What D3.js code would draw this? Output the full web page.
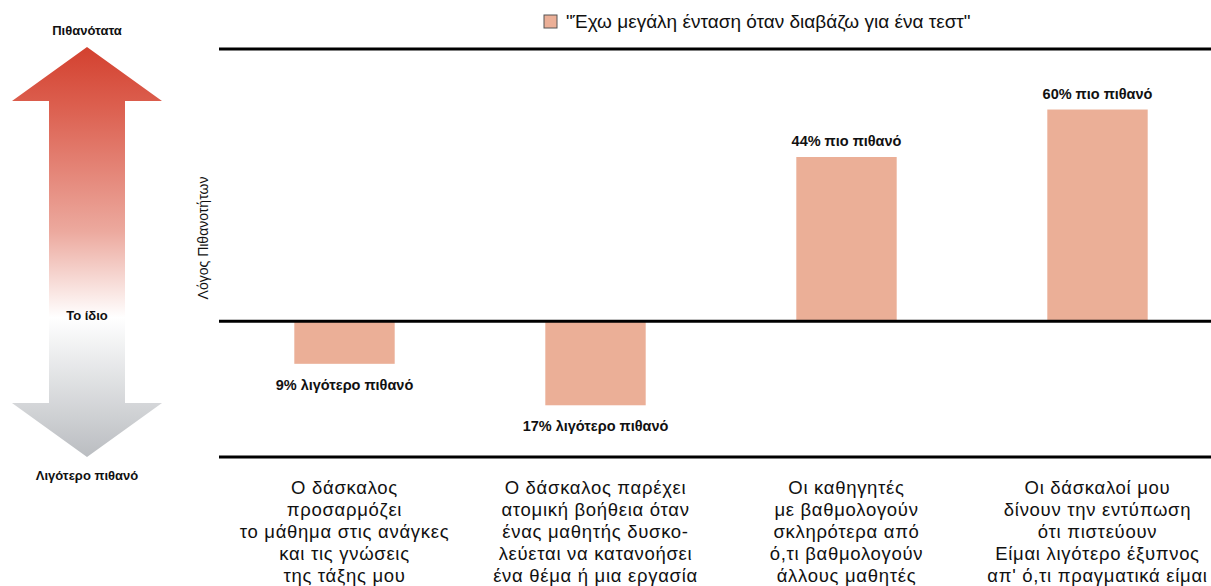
<!DOCTYPE html>
<html>
<head>
<meta charset="utf-8">
<script src="https://cdn.jsdelivr.net/npm/d3@7"></script>
<style>
  body { margin: 0; background: #fff; }
  text { font-family: "Liberation Sans", Arial, Helvetica, sans-serif; fill: #111; }
</style>
</head>
<body>
<div id="chart"></div>
<script>
var svgWidth = 1211
var svgHeight = 586

// data
var categories = [
    ["Ο δάσκαλος", "προσαρμόζει", "το μάθημα στις ανάγκες", "και τις γνώσεις", "της τάξης μου"],
    ["Ο δάσκαλος παρέχει", "ατομική βοήθεια όταν", "ένας μαθητής δυσκο-", "λεύεται να κατανοήσει", "ένα θέμα ή μια εργασία"],
    ["Οι καθηγητές", "με βαθμολογούν", "σκληρότερα από", "ό,τι βαθμολογούν", "άλλους μαθητές"],
    ["Οι δάσκαλοί μου", "δίνουν την εντύπωση", "ότι πιστεύουν", "Είμαι λιγότερο έξυπνος", "απ' ό,τι πραγματικά είμαι"]
]
var oddsRatios = [0.91, 0.83, 1.44, 1.60]
var valueLabels = ["9% λιγότερο πιθανό", "17% λιγότερο πιθανό", "44% πιο πιθανό", "60% πιο πιθανό"]
var seriesName = "\"Έχω μεγάλη ένταση όταν διαβάζω για ένα τεστ\""
var yDomain = [0.74, 1.83]
var arrowLabels = ["Πιθανότατα", "Το ίδιο", "Λιγότερο πιθανό"]

var barColor = "#ebaf97"

var svg = d3.select("#chart").append("svg").attr("width", svgWidth).attr("height", svgHeight)

var margin = { top: 49, left: 219, bottom: 129, right: -12 }

var xScale = d3.scaleBand().domain(d3.range(categories.length))
    .range([margin.left, svgWidth - margin.right])
    .paddingInner(0.6).paddingOuter(0.3)

var yScale = d3.scaleLog().domain(yDomain)
    .range([svgHeight - margin.bottom, margin.top])

// gradient for arrow
var defs = svg.append("defs")
var grad = defs.append("linearGradient").attr("id", "arrowGrad")
    .attr("x1", 0).attr("y1", 0).attr("x2", 0).attr("y2", 1)
grad.append("stop").attr("offset", "0%").attr("stop-color", "#d3412f")
grad.append("stop").attr("offset", "15%").attr("stop-color", "#dc6050")
grad.append("stop").attr("offset", "45%").attr("stop-color", "#eca99e")
grad.append("stop").attr("offset", "66%").attr("stop-color", "#ffffff")
grad.append("stop").attr("offset", "100%").attr("stop-color", "#babdc1")

var ax = 87, tipTop = 47, headTop = 101, headBot = 403, tipBot = 457
var arrowPts = [
    [ax, tipTop], [162, headTop], [125, headTop], [125, headBot], [162, headBot],
    [ax, tipBot], [12, headBot], [49, headBot], [49, headTop], [12, headTop]
]
svg.append("path")
    .attr("d", d3.line()(arrowPts) + "Z")
    .attr("fill", "url(#arrowGrad)")

svg.append("text").attr("x", ax).attr("y", 35).attr("text-anchor", "middle")
    .attr("font-size", "13px").attr("font-weight", "bold").text(arrowLabels[0])
svg.append("text").attr("x", ax).attr("y", yScale(1) - 1).attr("text-anchor", "middle")
    .attr("font-size", "13px").attr("font-weight", "bold").text(arrowLabels[1])
svg.append("text").attr("x", ax).attr("y", 480).attr("text-anchor", "middle")
    .attr("font-size", "13px").attr("font-weight", "bold").text(arrowLabels[2])

// y axis title
svg.append("text")
    .attr("transform", `translate(208, ${238}) rotate(-90)`)
    .attr("text-anchor", "middle")
    .attr("font-size", "14px")
    .text("Λόγος Πιθανοτήτων")

// bars
svg.selectAll("rect.bar")
    .data(oddsRatios)
    .enter()
    .append("rect")
    .attr("class", "bar")
    .attr("x", (d, i) => xScale(i))
    .attr("width", xScale.bandwidth())
    .attr("y", d => Math.min(yScale(d), yScale(1)))
    .attr("height", d => Math.abs(yScale(d) - yScale(1)))
    .attr("fill", barColor)

// value labels
svg.selectAll("text.val")
    .data(oddsRatios)
    .enter()
    .append("text")
    .attr("class", "val")
    .attr("x", (d, i) => xScale(i) + xScale.bandwidth() / 2)
    .attr("y", d => d >= 1 ? yScale(d) - 11 : yScale(d) + 26)
    .attr("text-anchor", "middle")
    .attr("font-size", "14.5px")
    .attr("font-weight", "bold")
    .text((d, i) => valueLabels[i])

// horizontal rules: top, baseline and bottom
var rules = [yDomain[1], 1, yDomain[0]]
svg.selectAll("line.rule")
    .data(rules)
    .enter()
    .append("line")
    .attr("x1", margin.left).attr("x2", svgWidth)
    .attr("y1", d => yScale(d)).attr("y2", d => yScale(d))
    .attr("stroke", "#000").attr("stroke-width", 3)

// category labels
var catGroups = svg.selectAll("text.cat")
    .data(categories)
    .enter()
    .append("text")
    .attr("class", "cat")
    .attr("text-anchor", "middle")
    .attr("font-size", "18.5px")
    .attr("letter-spacing", "0.7px")

catGroups.selectAll("tspan")
    .data((d, i) => d.map(line => ({ line: line, i: i })))
    .enter()
    .append("tspan")
    .attr("x", d => xScale(d.i) + xScale.bandwidth() / 2)
    .attr("y", (d, j) => 494 + j * 22)
    .text(d => d.line)

// legend
var legend = svg.append("g").attr("transform", "translate(544, 15)")
legend.append("rect").attr("width", 13).attr("height", 13)
    .attr("fill", barColor).attr("stroke", "#555").attr("stroke-width", 1)
legend.append("text").attr("x", 22).attr("y", 12.5)
    .attr("font-size", "19px").text(seriesName)
</script>
</body>
</html>
